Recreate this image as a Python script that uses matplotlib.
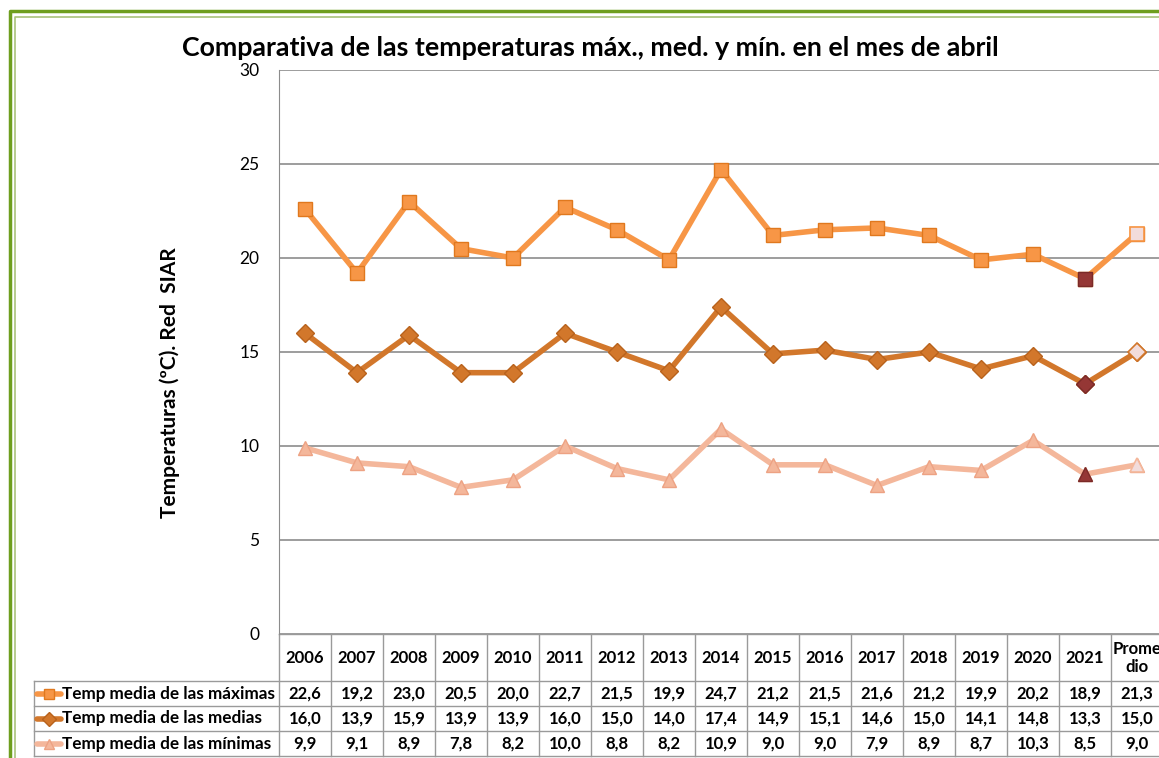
import matplotlib.pyplot as plt
from matplotlib.lines import Line2D

plt.rcParams['font.family'] = ['Lato', 'DejaVu Sans']

categorias = ['2006', '2007', '2008', '2009', '2010', '2011', '2012', '2013', '2014',
              '2015', '2016', '2017', '2018', '2019', '2020', '2021', 'Prome\ndio']
maximas = [22.6, 19.2, 23.0, 20.5, 20.0, 22.7, 21.5, 19.9, 24.7, 21.2, 21.5, 21.6, 21.2, 19.9, 20.2, 18.9, 21.3]
medias = [16.0, 13.9, 15.9, 13.9, 13.9, 16.0, 15.0, 14.0, 17.4, 14.9, 15.1, 14.6, 15.0, 14.1, 14.8, 13.3, 15.0]
minimas = [9.9, 9.1, 8.9, 7.8, 8.2, 10.0, 8.8, 8.2, 10.9, 9.0, 9.0, 7.9, 8.9, 8.7, 10.3, 8.5, 9.0]
nombres = ['Temp media de las máximas', 'Temp media de las medias', 'Temp media de las mínimas']

W, H = 1159, 758
fig = plt.figure(figsize=(W / 100, H / 100), dpi=100)

# plot area in pixels
x0, x1, ytop, ybot = 279, 1163, 70, 634
ax = fig.add_axes([x0 / W, 1 - ybot / H, (x1 - x0) / W, (ybot - ytop) / H])
n = len(categorias)
ax.set_xlim(-0.5, n - 0.5)
ax.set_ylim(0, 30)
ax.set_yticks(range(0, 31, 5))
ax.set_xticks([])
ax.tick_params(axis='y', length=0, labelsize=12.5, pad=14)
for s in ['top', 'right', 'bottom']:
    ax.spines[s].set_visible(False)
ax.spines['left'].set_color('#8c8c8c')
ax.yaxis.grid(True, color='#8c8c8c', lw=1.2)
ax.set_axisbelow(True)

series = [
    (maximas, '#F79646', '#E0781E', 's', 10.5),
    (medias, '#D2772B', '#B8621C', 'D', 9),
    (minimas, '#F4B79B', '#EDA283', '^', 10.5),
]
xs = list(range(n))
for vals, col, edge, mk, ms in series:
    ax.plot(xs, vals, color=col, lw=4, marker=mk, ms=ms, mfc=col, mec=edge,
            mew=1, zorder=3, solid_joinstyle='miter')
    # last year highlighted, average pale
    ax.plot(xs[-2], vals[-2], marker=mk, ms=ms, mfc='#953735', mec='#7a2a28', ls='none', zorder=4)
    ax.plot(xs[-1], vals[-1], marker=mk, ms=ms, mfc='#F2DCDB', mec=col, mew=1.2, ls='none', zorder=4)

fig.text(170 / W, 1 - 383 / H, 'Temperaturas (ºC). Red  SIAR', rotation=90,
         ha='center', va='center', fontsize=15, fontweight='bold')

fig.text(590 / W, 1 - 48 / H, 'Comparativa de las temperaturas máx., med. y mín. en el mes de abril',
         ha='center', va='center', fontsize=19.3, fontweight='bold')

# data table below the plot
tr = ax.get_xaxis_transform()
ph = ybot - ytop
def fy(py):
    return -(py - ybot) / ph

rows_px = [634, 681, 706, 731, 756]
lab_left = -0.5 - (279 - 34) / 52.0
gc = '#9a9a9a'
for r in rows_px:
    xa = -0.5 if r == 634 else lab_left
    ax.add_line(Line2D([xa, n - 0.5], [fy(r), fy(r)], transform=tr, color=gc, lw=1, clip_on=False))
for i in range(n + 1):
    ax.add_line(Line2D([i - 0.5, i - 0.5], [fy(634), fy(756)], transform=tr, color=gc, lw=1, clip_on=False))
ax.add_line(Line2D([lab_left, lab_left], [fy(681), fy(756)], transform=tr, color=gc, lw=1, clip_on=False))

for i, c in enumerate(categorias):
    ax.text(i, fy(658), c, transform=tr, ha='center', va='center', fontsize=12,
            fontweight='bold', linespacing=1.2)

for k, (vals, col, edge, mk, ms) in enumerate(series):
    yc = fy((rows_px[k + 1] + rows_px[k + 2]) / 2)
    for i, v in enumerate(vals):
        ax.text(i, yc, f'{v:.1f}'.replace('.', ','), transform=tr, ha='center', va='center',
                fontsize=12, fontweight='bold')
    ax.text(lab_left + 0.54, yc, nombres[k], transform=tr, ha='left', va='center',
            fontsize=12.3, fontweight='bold')
    ax.add_line(Line2D([lab_left + 0.05, lab_left + 0.52], [yc, yc], transform=tr, color=col,
                       lw=4, clip_on=False, solid_capstyle='round'))
    ax.add_line(Line2D([lab_left + 0.285], [yc], transform=tr, marker=mk, ms=ms * 0.75, mfc=col,
                       mec=edge, ls='none', clip_on=False))

# green frame
fig.add_artist(Line2D([10 / W, 10 / W, 1], [0, 1 - 11 / H, 1 - 11 / H], transform=fig.transFigure,
                      color='#6E9E1E', lw=2.5))
fig.add_artist(Line2D([15 / W, 15 / W, 1], [0, 1 - 17 / H, 1 - 17 / H], transform=fig.transFigure,
                      color='#A9C27A', lw=1.2))

fig.savefig('out.png', dpi=100)
